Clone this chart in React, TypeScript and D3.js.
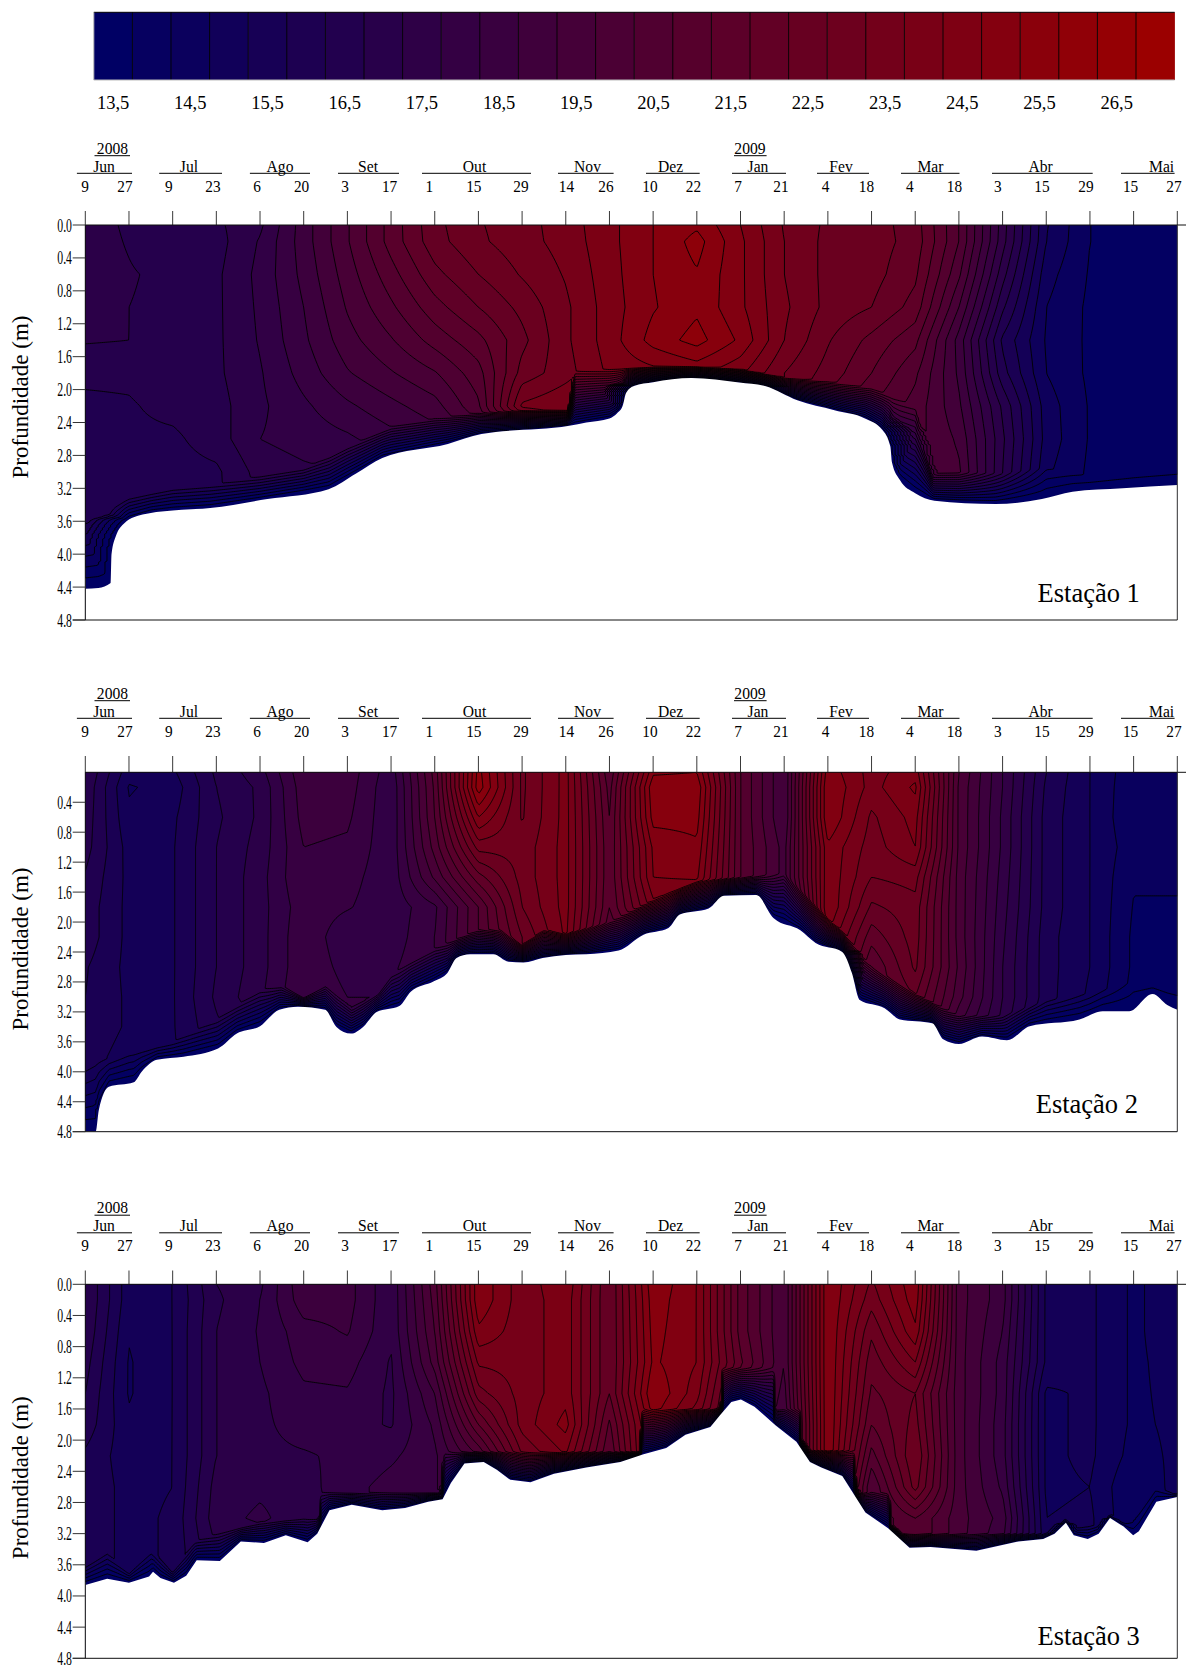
import React, { useMemo } from "react";
import * as d3 from "d3";

// ---------- shared categories ----------
const sampleDays = ["9","27","9","23","6","20","3","17","1","15","29","14","26","10","22","7","21","4","18","4","18","3","15","29","15","27"];
const months = ["Jun","Jul","Ago","Set","Out","Nov","Dez","Jan","Fev","Mar","Abr","Mai"];
const years = ["2008","2009"];
const legendValues = d3.range(13.5, 27.01, 0.5);
const contourLevels = d3.range(13.5, 27.01, 0.5);
const depthTicks = [0,0.4,0.8,1.2,1.6,2.0,2.4,2.8,3.2,3.6,4.0,4.4,4.8];
const depthRows = [0,0.2,0.6,1.0,1.4,1.8,2.2,2.6,3.0,3.4,3.8];

// ---------- Estação 1: temperature per sample (columns) and depth row ----------
const temp1 = [
[17.3,17.3,17.3,17.3,17.05,16.6,16.4,16.45,16.5,16.5],
[16.9,16.95,17.05,17.0,17.0,16.6,16.45,16.4,16.4,16.4],
[16.55,16.55,16.85,16.85,16.85,16.8,16.65,16.4,16.3,16.3],
[16.9,16.8,16.9,16.9,16.9,16.9,16.8,16.75,16.4,16.4],
[17.4,17.55,17.65,17.6,17.55,17.45,17.4,17.5,17.2,17],
[18.75,18.75,18.65,18.5,18.4,18.2,17.9,17.7,17.4,17],
[19.95,19.95,19.75,19.55,19.3,18.95,18.4,17.9,17.5,17],
[21.2,21.2,20.8,20.4,19.95,19.45,18.85,18.3,17.5,17],
[22.35,22.3,21.85,21.3,20.7,19.95,19.3,18.7,17.5,17],
[22.95,22.9,22.5,22,21.35,20.8,20.4,19.5],
[23.3,23.3,23.05,22.65,22.35,22.7,23.6,21],
[23.75,23.7,23.55,23.4,23.4,23.3,23.95,22],
[24.35,24.35,24.3,24.25,24.25,24.1,24],
[25,25,25,24.95,25.2,24.3],
[25.4,25.7,25.45,25.4,25.7,24.6],
[24.5,24.6,24.6,24.6,24.9,24.1],
[23.45,23.5,23.5,23.6,23.5,23],
[22.9,22.85,22.85,22.85,22.55,22.3,21.8],
[22.75,22.75,22.7,22.5,21.85,21.5,21],
[22.25,22.3,22.1,21.8,21.15,20.6,20.3,20.2,20],
[20.5,20.5,20.1,19.5,18.8,18.9,19.1,19.4,19.6],
[17.75,17.7,17.2,16.6,15.9,16.2,16.9,17.1,17],
[15.05,15,14.7,14.5,14.45,14.5,14.75,14.8,14.6],
[14,14,13.95,13.9,13.9,13.9,13.95,13.95,13.9],
[13.85,13.85,13.85,13.85,13.85,13.85,13.85,13.85,13.8],
[13.8,13.8,13.8,13.8,13.8,13.8,13.8,13.8,13.8],
];
const bedPos1 = [0,0.3,0.58,0.6,0.7,0.9,1,1.5,2,2.86,4.17,5.57,6.2,6.8,8.3,9.07,11.08,11.47,12,12.17,12.3,12.38,12.56,13,13.88,14.97,15.58,16.3,17.15,17.85,18.25,18.43,18.47,18.65,19,19.44,20.84,21.9,22.6,23.75,25];
const bedDepth1 = [4.42,4.41,4.35,4.0,3.78,3.62,3.58,3.5,3.47,3.44,3.33,3.21,3.02,2.83,2.66,2.54,2.44,2.4,2.35,2.29,2.2,2.04,1.955,1.91,1.86,1.915,1.96,2.13,2.25,2.35,2.49,2.69,2.89,3.1,3.26,3.35,3.39,3.33,3.24,3.2,3.16];
const fallPos1 = [0,0.6,1,2,3,4,5,5.6,6,7,8,9,10,11.05,11.2,12,13,14,15,16,17,18,19,19.4,21,22,23,25];
const fallDepth1 = [3.5,3.4,3.3,3.2,3.15,3.05,2.95,2.82,2.7,2.45,2.35,2.28,2.25,2.25,1.78,1.75,1.72,1.72,1.75,1.85,1.9,1.98,2.2,3.0,3.02,2.95,3.05,2.95];

// ---------- Estação 2 ----------
const temp2 = [
[17,16.9,16.8,16.7,16.45,16.3,16.3,16.05,16,16,15.8],
[15.2,14.95,15.1,15.3,15.35,15.35,15.35,15.35,15.4,15.4,15.2],
[15.4,15.2,15.4,15.45,15.45,15.45,15.45,15.45,15.45,15.45,15.4],
[16.6,16.5,16.4,16.5,16.5,16.5,16.5,16.5,16.6,16.4],
[17.3,17.1,17.1,17.2,17.3,17.3,17.3,17.3,17.4,17],
[18.9,18.8,18.7,18.5,18.5,18.3,18.4,18.4,18.5],
[18.8,18.75,18.6,18.4,18.2,18.05,17.6,17.8,18,18],
[17.7,17.6,17.6,17.65,17.65,17.65,17.7,17.9,18],
[20.7,20.6,20.5,20.2,19.6,18.4,18.5,18.5],
[25.7,25.8,24.5,23.2,21.8,20.5,20.5],
[22.9,22.9,22.95,23.2,23.2,23,22.5],
[24.2,24.2,24.2,24.2,24.2,24.2,24.1],
[20.6,20.8,21,21.1,21.1,21,20.5],
[24.9,25.4,25.2,24.6,24.5,23.8,22],
[25,25.4,25.2,24.9,24.6,23.4],
[21,21,21,21,21,20],
[19,19,19,19.3,19.3,18.5,18],
[24.8,25,25,24.4,24.4,24.5,24],
[23.8,23.8,23.4,23.25,23,22.4,21.7,21],
[24.3,24.6,24.2,24,23.2,22.8,22.75,22.6,22],
[20,19.9,19.9,19.9,19.8,19.8,19.8,19.9,19.7,19],
[18,18,17.9,17.9,17.8,17.7,17.6,17.5,17.5,17.3],
[16,15.9,15.8,15.8,15.8,15.8,15.7,15.7,15.7,15.4],
[15,15,15,15,15,15,15,15,14.9],
[14.15,14.1,14.05,14.2,14.05,13.97,13.9,13.9,13.8],
[14.2,14.1,14.1,14.1,14.05,13.97,13.9,13.85,13.85],
];
const bedPos2 = [0,0.24,0.31,0.54,1.11,1.29,1.64,2.25,3.04,3.47,4,4.44,4.87,5.49,5.75,6.08,6.36,6.67,7.19,7.45,7.98,8.29,8.5,8.81,9.34,9.69,10.03,10.47,11,11.47,12.21,12.78,13.35,13.61,14.27,14.62,15.36,15.76,16.37,16.72,17.33,17.55,17.73,18.3,18.65,19.39,19.65,20,20.53,21.1,21.62,22.76,23.29,23.9,24.43,24.78,25];
const bedDepth2 = [4.8,4.8,4.51,4.2,4.14,4.0,3.84,3.8,3.69,3.49,3.39,3.17,3.13,3.17,3.4,3.49,3.4,3.2,3.12,2.93,2.79,2.68,2.48,2.43,2.43,2.53,2.54,2.48,2.44,2.43,2.38,2.17,2.08,1.9,1.82,1.65,1.64,1.95,2.11,2.28,2.4,2.68,3.04,3.15,3.3,3.35,3.57,3.63,3.53,3.58,3.39,3.3,3.19,3.19,2.96,3.11,3.17];
const fallPos2 = [0,1,2,3,4,4.5,5,5.5,6.1,6.7,7,8,9,9.5,10,10.5,11,12,13,14,15,16,17,17.3,18,19,20,21,22,23,24,25];
const fallDepth2 = [3.9,3.75,3.6,3.3,2.9,2.85,3.0,2.85,3.15,2.95,2.7,2.35,2.1,2.1,2.3,2.1,2.15,2.0,1.7,1.45,1.4,1.35,1.95,2.1,2.6,2.95,3.25,3.25,3.05,2.95,2.8,2.85];

// ---------- Estação 3 ----------
const temp3 = [
[17,17,16.9,16.7,16.5,16.3,15.9,15.9,15.9,15.9,15.9],
[15.2,15.2,15.05,14.95,14.95,15.1,15.2,15.3,15.3,15.3,15.3],
[15.5,15.5,15.5,15.5,15.5,15.5,15.5,15.5,15.6,15.6,15.6],
[17,16.9,17,17,17,17,17,17.2,17.3,17],
[17.4,17.5,17.55,17.5,17.4,17.4,17.4,17.4,17.6,17],
[18.9,18.8,18.3,18.15,17.9,17.7,17.45,17.3,17.2],
[18.7,18.7,18.55,18.2,17.95,17.7,17.6,17.8,17.8],
[17.6,17.6,17.6,17.45,17.4,17.45,17.9,18.2,18.2],
[20.3,20.2,20,19.7,19,18.6,18.4,18.4,18.4],
[24.9,24.9,24.4,23.6,22.8,21.5,20],
[23.7,23.7,23.7,23.7,23.7,23.7,23],
[24.4,24.3,24.3,24.3,24.3,24.7,24],
[22,22,22,22,22,21.4,21],
[25.4,25.3,25.2,25.1,25.5,25],
[24.5,24.5,24.5,24.5,24.2,23.5],
[21.3,21.3,21.3,21.6,21,21],
[19.5,19.5,19.5,19.5,19.3,19],
[25,25,25,25,25,25,25],
[23.4,23.2,22.6,22.2,21.9,21.5,20.8,20],
[24.9,24.8,24.4,23.5,22.5,22.7,23,22.7,21],
[19.7,19.7,19.7,19.7,19.7,19.7,19.7,19.7,19.7],
[18.7,18.7,18.5,18.3,18.3,18.2,18.2,18.4,18.8,18.5],
[15.4,15.4,15.4,15.4,14.9,14.9,14.9,14.9,15,15.2],
[15.1,15.1,15.1,15.1,15.1,15.1,15.1,15,15.1],
[14.4,14.4,14.4,14.4,14.4,14.4,14.3,14,14],
[14.8,14.8,14.8,14.7,14.65,14.6,14.6,14.7,14.6],
];
const bedPos3 = [0,0.5,1,1.46,1.55,1.72,2.03,2.31,2.55,3.08,3.56,4.09,4.59,5.09,5.31,5.59,6.1,6.8,7.32,7.85,8.18,8.37,8.68,9.12,9.42,9.73,10.19,10.73,11.47,12.25,12.78,13.3,13.74,14.31,14.53,14.79,15.01,15.32,15.8,16.28,16.59,16.85,17.33,17.86,18.38,18.87,19.35,20.4,21.36,21.93,22.19,22.45,22.63,22.95,23.2,23.46,23.77,23.99,24.12,24.52,25];
const bedDepth3 = [3.86,3.78,3.83,3.75,3.69,3.77,3.83,3.74,3.54,3.55,3.3,3.32,3.22,3.31,3.2,2.9,2.83,2.9,2.87,2.79,2.76,2.55,2.3,2.28,2.38,2.51,2.54,2.43,2.35,2.28,2.18,2.1,1.93,1.83,1.68,1.51,1.48,1.57,1.81,2.02,2.28,2.35,2.46,2.93,3.13,3.38,3.37,3.42,3.3,3.27,3.2,3.06,3.22,3.27,3.2,3.0,3.11,3.22,3.17,2.79,2.73];
const fallPos3 = [0,0.5,1,1.5,2,2.5,3,4,5,5.35,5.4,8.18,8.2,12.7,12.75,14.55,14.6,15.75,15.8,16.35,16.4,17.6,17.65,18.4,18.45,21.9,23,24,24.5,25];
const fallDepth3 = [3.6,3.45,3.7,3.4,3.7,3.3,3.2,3.05,3.0,3.0,2.67,2.67,2.15,2.15,1.6,1.6,1.07,1.07,1.6,1.6,2.13,2.13,2.67,2.67,3.2,3.2,3.1,3.05,2.6,2.7];

// ---------- layout (pixels, not data) ----------
const SERIF = "'Liberation Serif','Times New Roman',serif";
const plotLeft = 85.3, plotRight = 1177.3;
const monthCentres = [104,189,280,368,474.5,587.5,670.6,758,841,930.4,1040.6,1161.6];
const monthRuleStart = [76.9,159.2,249.9,338,422,558,646,732,817,901,992,1121];
const monthRuleEnd = [132,222,310,399,531,613.6,699.7,786,869,959.5,1092.7,1174.6];
const dayCentres = [85,125,168.8,213,257,301.6,345,389.6,429.4,473.8,521,566.4,606,650,693.5,738,781,825.6,866.5,909.8,954.5,997.8,1042,1086,1130.6,1174];
const yearCentres = [112.5,750];
const yearRule = [[94.5,130],[734,766.6]];

const ramp = d3.scaleLinear<string>().domain([13.5,27]).range(["#000064","#9b0000"]).clamp(true);

const xIndex = d3.scaleLinear().domain([0, sampleDays.length - 1]).range([plotLeft, plotRight]);
const tickScale = d3.scalePoint<number>().domain(sampleDays.map((_, i) => i)).range([plotLeft, plotRight]);
const rowIndex = d3.scaleLinear().domain(depthRows).range(depthRows.map((_, i) => i)).clamp(true);

type Station = {
  name: string; top: number; bottom: number; hdr: number; titleY: number; nameX: number; nameY: number;
  ticks: number[]; temp: number[][]; bedPos: number[]; bedDepth: number[]; fallPos: number[]; fallDepth: number[]; wall: number; smooth: boolean;
};
const stations: Station[] = [
  { name:"Estação 1", top:225, bottom:620, hdr:0, titleY:397, nameX:1037.6, nameY:601.7, ticks:depthTicks, temp:temp1, bedPos:bedPos1, bedDepth:bedDepth1, fallPos:fallPos1, fallDepth:fallDepth1, wall:1.0, smooth:true },
  { name:"Estação 2", top:772.3, bottom:1131.7, hdr:545, titleY:949, nameX:1035.7, nameY:1113.3, ticks:depthTicks.slice(1), temp:temp2, bedPos:bedPos2, bedDepth:bedDepth2, fallPos:fallPos2, fallDepth:fallDepth2, wall:0.45, smooth:true },
  { name:"Estação 3", top:1284.3, bottom:1658.3, hdr:1059.5, titleY:1477.7, nameX:1037.6, nameY:1645, ticks:depthTicks, temp:temp3, bedPos:bedPos3, bedDepth:bedDepth3, fallPos:fallPos3, fallDepth:fallDepth3, wall:0.2, smooth:false },
];

function bandPaths(s: Station) {
  const stepX = 2, stepY = 1, pad = 3;
  const W = plotRight - plotLeft, H = s.bottom - s.top;
  const nx = Math.ceil(W / stepX) + 2 * pad + 1, ny = Math.ceil(H / stepY) + 2 * pad + 1;
  const y = d3.scaleLinear().domain([0, 4.8]).range([s.top, s.bottom]);
  const bed = d3.scaleLinear().domain(s.bedPos).range(s.bedDepth).clamp(true);
  const fall = d3.scaleLinear().domain(s.fallPos).range(s.fallDepth).clamp(true);
  const cols = new Float64Array(nx), beds = new Float64Array(nx), falls = new Float64Array(nx);
  for (let i = 0; i < nx; i++) {
    const c = Math.max(0, Math.min(25, xIndex.invert(plotLeft + (i - pad) * stepX)));
    cols[i] = c; beds[i] = bed(c); falls[i] = fall(c);
  }
  const cell = (c: number, r: number) => { const a = s.temp[c]; return a[Math.min(r, a.length - 1)]; };
  const values = new Float64Array(nx * ny);
  const dist = new Float64Array(nx);
  const colStep = stepX / (W / 25);
  for (let j = 0; j < ny; j++) {
    const d = y.invert(s.top + (j - pad) * stepY);
    const rr = rowIndex(d), r0 = Math.floor(rr), r1 = Math.min(r0 + 1, depthRows.length - 1), fr = rr - r0;
    let run = 1e6;
    for (let i = 0; i < nx; i++) { run = beds[i] < d ? 0 : run + colStep; dist[i] = run; }
    run = 1e6;
    for (let i = nx - 1; i >= 0; i--) { run = beds[i] < d ? 0 : run + colStep; if (run < dist[i]) dist[i] = run; }
    for (let i = 0; i < nx; i++) {
      const c = cols[i], c0 = Math.min(Math.floor(c), 24), fc = c - c0;
      const base = (1-fc)*((1-fr)*cell(c0,r0)+fr*cell(c0,r1)) + fc*((1-fr)*cell(c0+1,r0)+fr*cell(c0+1,r1));
      const vertical = (beds[i] - d) / Math.max(beds[i] - falls[i], 0.05);
      const sv = Math.max(0, Math.min(1, vertical, dist[i] / s.wall));
      values[j * nx + i] = 13 + sv * (base - 13);
    }
  }
  const contours = d3.contours().size([nx, ny]).thresholds(contourLevels)(values as any);
  const path = d3.geoPath(d3.geoTransform({
    point(px: number, py: number) {
      (this as any).stream.point(plotLeft + (px - 0.5 - pad) * stepX, s.top + (py - 0.5 - pad) * stepY);
    },
  }));
  return contours.map(c => ({ d: path(c as any) || "", fill: ramp(c.value + 0.25) }));
}

function T(p: { x: number; y: number; sx?: number; size: number; anchor?: string; children: any }) {
  return (
    <text transform={`translate(${p.x},${p.y}) scale(${p.sx ?? 1},1)`} fontSize={p.size} fontFamily={SERIF}
      textAnchor={p.anchor ?? "middle"} fill="#000">{p.children}</text>
  );
}

function Header({ s }: { s: Station }) {
  const o = s.hdr;
  return (
    <g>
      {years.map((yr, i) => (
        <g key={yr}>
          <T x={yearCentres[i]} y={153.5 + o} size={17} sx={0.92}>{yr}</T>
          <line x1={yearRule[i][0]} x2={yearRule[i][1]} y1={155.7 + o} y2={155.7 + o} stroke="#000" />
        </g>
      ))}
      {months.map((m, i) => (
        <g key={m}>
          <T x={monthCentres[i]} y={171.5 + o} size={17} sx={0.92}>{m}</T>
          <line x1={monthRuleStart[i]} x2={monthRuleEnd[i]} y1={173.3 + o} y2={173.3 + o} stroke="#000" />
        </g>
      ))}
      {sampleDays.map((d, i) => (
        <T key={i} x={dayCentres[i]} y={191.5 + o} size={17} sx={0.9}>{d}</T>
      ))}
      {sampleDays.map((_, i) => (
        <line key={i} x1={tickScale(i)} x2={tickScale(i)} y1={211 + o} y2={s.top} stroke="#222" strokeWidth={0.9} />
      ))}
    </g>
  );
}

function Panel({ s, idx }: { s: Station; idx: number }) {
  const bands = useMemo(() => bandPaths(s), [s]);
  const y = d3.scaleLinear().domain([0, 4.8]).range([s.top, s.bottom]);
  const bedPts = s.bedPos.map((p, i) => [p, s.bedDepth[i]] as [number, number]);
  const bedArea = d3.area<[number, number]>()
    .curve(s.smooth ? d3.curveMonotoneX : d3.curveLinear)
    .x(p => xIndex(p[0])).y0(p => y(p[1])).y1(s.bottom + 2)(bedPts) || "";
  const clip = `plot-${idx}`;
  return (
    <g>
      <defs>
        <clipPath id={clip}>
          <rect x={plotLeft} y={s.top} width={plotRight - plotLeft} height={s.bottom - s.top} />
        </clipPath>
      </defs>
      <Header s={s} />
      <g clipPath={`url(#${clip})`}>
        <rect x={plotLeft} y={s.top} width={plotRight - plotLeft} height={s.bottom - s.top} fill={ramp(13.5)} />
        {bands.map((b, i) => (
          <path key={i} d={b.d} fill={b.fill} stroke="#000" strokeWidth={0.9} strokeLinejoin="round" />
        ))}
        <path d={bedArea} fill="#fff" />
      </g>
      <line x1={plotLeft} x2={1186} y1={s.top} y2={s.top} stroke="#111" strokeWidth={1} />
      <line x1={plotLeft} x2={plotLeft} y1={s.top} y2={s.bottom} stroke="#111" strokeWidth={1} />
      <line x1={plotRight} x2={plotRight} y1={s.top} y2={s.bottom} stroke="#333" strokeWidth={1} />
      <line x1={72.7} x2={plotRight} y1={s.bottom} y2={s.bottom} stroke="#111" strokeWidth={1} />
      {s.ticks.map(t => (
        <g key={t}>
          <line x1={72.7} x2={plotLeft} y1={y(t)} y2={y(t)} stroke="#333" strokeWidth={1} />
          <T x={72} y={y(t) + 6.5} size={19} sx={0.62} anchor="end">{t.toFixed(1)}</T>
        </g>
      ))}
      <text transform={`translate(27.5,${s.titleY}) rotate(-90)`} fontSize={23} fontFamily={SERIF} textAnchor="middle">Profundidade (m)</text>
      <T x={s.nameX} y={s.nameY} size={26.5} anchor="start">{s.name}</T>
    </g>
  );
}

export default function App() {
  const barLeft = 93.8, barRight = 1174.6, barTop = 12.3, barBottom = 80;
  const cell = (barRight - barLeft) / legendValues.length;
  return (
    <svg width={1186} height={1666} viewBox="0 0 1186 1666" style={{ position: "absolute", left: 0, top: 0, background: "#fff" }}>
      {legendValues.map((v, i) => (
        <g key={v}>
          <rect x={barLeft + i * cell} y={barTop} width={cell + 0.3} height={barBottom - barTop} fill={ramp(v)} />
          {i > 0 && <line x1={barLeft + i * cell} x2={barLeft + i * cell} y1={barTop} y2={barBottom} stroke="#000" strokeWidth={0.9} />}
          {i % 2 === 0 && i < 27 && (
            <T x={barLeft + (i + 0.5) * cell} y={109.3} size={18.5}>{v.toFixed(1).replace(".", ",")}</T>
          )}
        </g>
      ))}
      <line x1={barLeft} x2={barRight} y1={barTop} y2={barTop} stroke="#000" strokeWidth={1} />
      <line x1={barLeft} x2={barRight} y1={barBottom} y2={barBottom} stroke="#bbb" strokeWidth={1} />
      <line x1={barLeft} x2={barLeft} y1={barTop} y2={barBottom} stroke="#bbb" strokeWidth={1} />
      {stations.map((s, i) => <Panel key={s.name} s={s} idx={i} />)}
    </svg>
  );
}
